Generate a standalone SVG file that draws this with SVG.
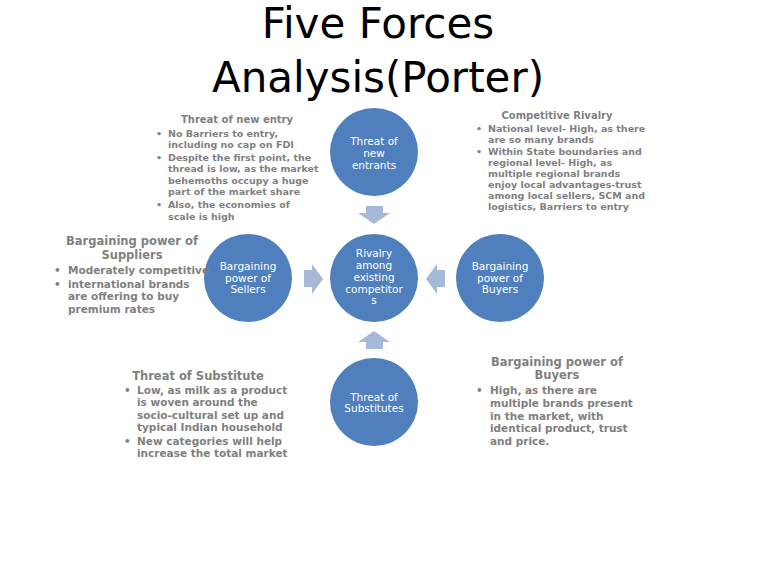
<svg xmlns="http://www.w3.org/2000/svg" width="768" height="576" viewBox="0 0 768 576">
<style>
.c{fill:#4f7fbc}
.ct{font-family:"DejaVu Sans",sans-serif;font-size:10.5px;fill:#fff;text-anchor:middle}
.h{font-family:"DejaVu Sans",sans-serif;font-size:10px;font-weight:bold;fill:#7f7f7f;text-anchor:middle}
.hl{font-family:"DejaVu Sans",sans-serif;font-size:11.5px;font-weight:bold;fill:#7f7f7f;text-anchor:middle}
.b{font-family:"DejaVu Sans",sans-serif;font-size:9.5px;font-weight:bold;fill:#7f7f7f}
.bl{font-family:"DejaVu Sans",sans-serif;font-size:10.5px;font-weight:bold;fill:#7f7f7f}
.ar{fill:#a7b9d9}
</style>
<rect width="768" height="576" fill="#fff"/>
<text x="378" y="38" font-family="DejaVu Sans,sans-serif" font-size="42" text-anchor="middle">Five Forces</text>
<text x="378" y="92" font-family="DejaVu Sans,sans-serif" font-size="42" text-anchor="middle">Analysis(Porter)</text>
<g id="connectors">
<polygon class="ar" points="366,206 383,206 383,213 390,213 374,224 358,213 366,213"/>
<polygon class="ar" points="304,270 312,270 312,264 323,279 312,294 312,287 304,287"/>
<polygon class="ar" points="445,270 437,270 437,264 426,279 437,294 437,287 445,287"/>
<polygon class="ar" points="366,349 383,349 383,342 390,342 374,331 358,342 366,342"/>
</g>
<g id="n-new"><circle class="c" cx="374" cy="152" r="44"/>
<text class="ct" x="374" y="145">Threat of</text><text class="ct" x="374" y="157">new</text><text class="ct" x="374" y="169">entrants</text></g>
<g id="n-rivalry"><circle class="c" cx="374" cy="278" r="44"/>
<text class="ct" x="374" y="257">Rivalry</text><text class="ct" x="374" y="269">among</text><text class="ct" x="374" y="281">existing</text><text class="ct" x="374" y="293">competitor</text><text class="ct" x="374" y="304">s</text></g>
<g id="n-sellers"><circle class="c" cx="248" cy="278" r="44"/>
<text class="ct" x="248" y="270">Bargaining</text><text class="ct" x="248" y="282">power of</text><text class="ct" x="248" y="293">Sellers</text></g>
<g id="n-buyers"><circle class="c" cx="500" cy="278" r="44"/>
<text class="ct" x="500" y="270">Bargaining</text><text class="ct" x="500" y="282">power of</text><text class="ct" x="500" y="293">Buyers</text></g>
<g id="n-subs"><circle class="c" cx="374" cy="402" r="44"/>
<text class="ct" x="374" y="401">Threat of</text><text class="ct" x="374" y="412">Substitutes</text></g>
<g id="t-new">
<text class="h" x="237" y="123">Threat of new entry</text>
<g class="b"><text x="156" y="137">•</text><text x="168" y="137">No Barriers to entry,</text><text x="168" y="148">including no cap on FDI</text>
<text x="156" y="161">•</text><text x="168" y="161">Despite the first point, the</text><text x="168" y="172">thread is low, as the market</text><text x="168" y="184">behemoths occupy a huge</text><text x="168" y="195">part of the market share</text>
<text x="156" y="208">•</text><text x="168" y="208">Also, the economies of</text><text x="168" y="220">scale is high</text></g></g>
<g id="t-riv">
<text class="h" x="557" y="119" font-size="9.5">Competitive Rivalry</text>
<g class="b" font-size="9"><text x="476" y="132">•</text><text x="488" y="132">National level- High, as there</text><text x="488" y="143">are so many brands</text>
<text x="476" y="155">•</text><text x="488" y="155">Within State boundaries and</text><text x="488" y="166">regional level- High, as</text><text x="488" y="177">multiple regional brands</text><text x="488" y="188">enjoy local advantages-trust</text><text x="488" y="199">among local sellers, SCM and</text><text x="488" y="210">logistics, Barriers to entry</text></g></g>
<g id="t-sup">
<text class="hl" x="132" y="245">Bargaining power of</text><text class="hl" x="132" y="259">Suppliers</text>
<g class="bl"><text x="54" y="274">•</text><text x="68" y="274">Moderately competitive</text>
<text x="54" y="288">•</text><text x="68" y="288">international brands</text><text x="68" y="300">are offering to buy</text><text x="68" y="313">premium rates</text></g></g>
<g id="t-subs">
<text class="hl" x="198" y="380">Threat of Substitute</text>
<g class="bl"><text x="124" y="394">•</text><text x="137" y="394">Low, as milk as a product</text><text x="137" y="406">is woven around the</text><text x="137" y="419">socio-cultural set up and</text><text x="137" y="431">typical Indian household</text>
<text x="124" y="445">•</text><text x="137" y="445">New categories will help</text><text x="137" y="457">increase the total market</text></g></g>
<g id="t-buy">
<text class="hl" x="557" y="366">Bargaining power of</text><text class="hl" x="557" y="379">Buyers</text>
<g class="bl"><text x="476" y="394">•</text><text x="490" y="394">High, as there are</text><text x="490" y="407">multiple brands present</text><text x="490" y="420">in the market, with</text><text x="490" y="432">identical product, trust</text><text x="490" y="445">and price.</text></g></g>
</svg>
